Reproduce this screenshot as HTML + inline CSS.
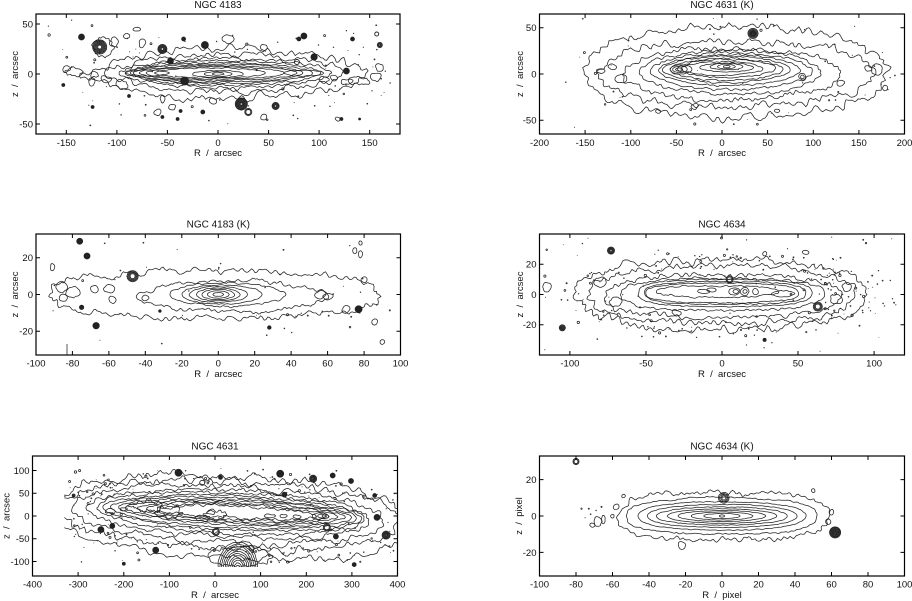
<!DOCTYPE html>
<html><head><meta charset="utf-8">
<style>
html,body{margin:0;padding:0;background:#fff;}
svg{display:block;}
text{font-family:"Liberation Sans",Arial,sans-serif;fill:#111;}
.tt{font-size:10px;text-anchor:middle;}
.xl{font-size:9.5px;text-anchor:middle;}
.yl{font-size:9.5px;text-anchor:end;}
.at{font-size:9.5px;text-anchor:middle;white-space:pre;}
</style></head><body>
<svg id="s" width="912" height="601" viewBox="0 0 912 601" xmlns="http://www.w3.org/2000/svg">
<defs>
<clipPath id="c1"><rect x="36" y="14" width="364" height="120"/></clipPath>
<clipPath id="c2"><rect x="539.5" y="14" width="365" height="120"/></clipPath>
<clipPath id="c3"><rect x="36" y="234" width="364.5" height="121"/></clipPath>
<clipPath id="c4"><rect x="539.5" y="234" width="365" height="121"/></clipPath>
<clipPath id="c5"><rect x="32.5" y="456" width="365" height="120"/></clipPath>
<clipPath id="c5b"><rect x="64.4" y="457" width="333" height="110"/></clipPath>
<clipPath id="c6"><rect x="539.5" y="456" width="365" height="120"/></clipPath>
</defs>
<rect x="0" y="0" width="912" height="601" fill="#fff"/>
<g fill="none" stroke="#222" stroke-width="0.75" stroke-linejoin="round">
<g id="g1" clip-path="url(#c1)"></g>
<g id="g2" clip-path="url(#c2)"></g>
<g id="g3" clip-path="url(#c3)"></g>
<g id="g4" clip-path="url(#c4)"></g>
<g clip-path="url(#c5)"><g id="g5" clip-path="url(#c5b)"></g></g>
<g id="g6" clip-path="url(#c6)"></g>
</g>
<g fill="none" stroke="#000" stroke-width="1.2">
<rect x="36" y="14" width="364" height="120"/>
<rect x="539.5" y="14" width="365" height="120"/>
<rect x="36" y="234" width="364.5" height="121"/>
<rect x="539.5" y="234" width="365" height="121"/>
<rect x="32.5" y="456" width="365" height="120"/>
<rect x="539.5" y="456" width="365" height="120"/>
</g>
<g id="ticks"></g>

<!-- Panel 1 -->
<text class="tt" x="218" y="8">NGC 4183</text>
<text class="xl" x="66.3" y="146">-150</text>
<text class="xl" x="116.9" y="146">-100</text>
<text class="xl" x="167.4" y="146">-50</text>
<text class="xl" x="218" y="146">0</text>
<text class="xl" x="268.6" y="146">50</text>
<text class="xl" x="319.1" y="146">100</text>
<text class="xl" x="369.7" y="146">150</text>
<text class="yl" x="33" y="27.4">50</text>
<text class="yl" x="33" y="77.4">0</text>
<text class="yl" x="33" y="127.4">-50</text>
<text class="at" x="218" y="156" xml:space="preserve">R  /  arcsec</text>
<text class="at" x="0" y="0" transform="translate(18,74) rotate(-90)" xml:space="preserve">z  /  arcsec</text>

<!-- Panel 2 -->
<text class="tt" x="722" y="8">NGC 4631 (K)</text>
<text class="xl" x="539.5" y="146">-200</text>
<text class="xl" x="585.1" y="146">-150</text>
<text class="xl" x="630.8" y="146">-100</text>
<text class="xl" x="676.4" y="146">-50</text>
<text class="xl" x="722" y="146">0</text>
<text class="xl" x="767.6" y="146">50</text>
<text class="xl" x="813.3" y="146">100</text>
<text class="xl" x="858.9" y="146">150</text>
<text class="xl" x="904.5" y="146">200</text>
<text class="yl" x="536.5" y="31.2">50</text>
<text class="yl" x="536.5" y="77.4">0</text>
<text class="yl" x="536.5" y="123.6">-50</text>
<text class="at" x="722" y="156" xml:space="preserve">R  /  arcsec</text>
<text class="at" x="0" y="0" transform="translate(523,74) rotate(-90)" xml:space="preserve">z  /  arcsec</text>

<!-- Panel 3 -->
<text class="tt" x="218.3" y="227.5">NGC 4183 (K)</text>
<text class="xl" x="36" y="366.5">-100</text>
<text class="xl" x="72.5" y="366.5">-80</text>
<text class="xl" x="108.9" y="366.5">-60</text>
<text class="xl" x="145.4" y="366.5">-40</text>
<text class="xl" x="181.8" y="366.5">-20</text>
<text class="xl" x="218.3" y="366.5">0</text>
<text class="xl" x="254.7" y="366.5">20</text>
<text class="xl" x="291.2" y="366.5">40</text>
<text class="xl" x="327.6" y="366.5">60</text>
<text class="xl" x="364.1" y="366.5">80</text>
<text class="xl" x="400.5" y="366.5">100</text>
<text class="yl" x="33" y="261.2">20</text>
<text class="yl" x="33" y="297.9">0</text>
<text class="yl" x="33" y="334.6">-20</text>
<text class="at" x="218.3" y="377" xml:space="preserve">R  /  arcsec</text>
<text class="at" x="0" y="0" transform="translate(18,294.5) rotate(-90)" xml:space="preserve">z  /  arcsec</text>

<!-- Panel 4 -->
<text class="tt" x="722" y="227.5">NGC 4634</text>
<text class="xl" x="569.9" y="366.5">-100</text>
<text class="xl" x="646" y="366.5">-50</text>
<text class="xl" x="722" y="366.5">0</text>
<text class="xl" x="798" y="366.5">50</text>
<text class="xl" x="874.1" y="366.5">100</text>
<text class="yl" x="536.5" y="267.7">20</text>
<text class="yl" x="536.5" y="297.9">0</text>
<text class="yl" x="536.5" y="328.2">-20</text>
<text class="at" x="722" y="377" xml:space="preserve">R  /  arcsec</text>
<text class="at" x="0" y="0" transform="translate(523,294.5) rotate(-90)" xml:space="preserve">z  /  arcsec</text>

<!-- Panel 5 -->
<text class="tt" x="215" y="449.5">NGC 4631</text>
<text class="xl" x="32.5" y="587.5">-400</text>
<text class="xl" x="78.1" y="587.5">-300</text>
<text class="xl" x="123.8" y="587.5">-200</text>
<text class="xl" x="169.4" y="587.5">-100</text>
<text class="xl" x="215" y="587.5">0</text>
<text class="xl" x="260.6" y="587.5">100</text>
<text class="xl" x="306.3" y="587.5">200</text>
<text class="xl" x="351.9" y="587.5">300</text>
<text class="xl" x="397.5" y="587.5">400</text>
<text class="yl" x="29.5" y="473.9">100</text>
<text class="yl" x="29.5" y="496.7">50</text>
<text class="yl" x="29.5" y="519.4">0</text>
<text class="yl" x="29.5" y="542.1">-50</text>
<text class="yl" x="29.5" y="564.9">-100</text>
<text class="at" x="215" y="598" xml:space="preserve">R  /  arcsec</text>
<text class="at" x="0" y="0" transform="translate(9.5,516) rotate(-90)" xml:space="preserve">z  /  arcsec</text>

<!-- Panel 6 -->
<text class="tt" x="722" y="449.5">NGC 4634 (K)</text>
<text class="xl" x="539.5" y="587.5">-100</text>
<text class="xl" x="576" y="587.5">-80</text>
<text class="xl" x="612.5" y="587.5">-60</text>
<text class="xl" x="649" y="587.5">-40</text>
<text class="xl" x="685.5" y="587.5">-20</text>
<text class="xl" x="722" y="587.5">0</text>
<text class="xl" x="758.5" y="587.5">20</text>
<text class="xl" x="795" y="587.5">40</text>
<text class="xl" x="831.5" y="587.5">60</text>
<text class="xl" x="868" y="587.5">80</text>
<text class="xl" x="904.5" y="587.5">100</text>
<text class="yl" x="536.5" y="483">20</text>
<text class="yl" x="536.5" y="519.4">0</text>
<text class="yl" x="536.5" y="555.8">-20</text>
<text class="at" x="722" y="598" xml:space="preserve">R  /  pixel</text>
<text class="at" x="0" y="0" transform="translate(522,516) rotate(-90)" xml:space="preserve">z  /  pixel</text>
</svg>
<script>
(function(){
var NS='http://www.w3.org/2000/svg';
var seed=987654321;
function rnd(){seed|=0;seed=seed+0x6D2B79F5|0;var t=Math.imul(seed^seed>>>15,1|seed);t=t+Math.imul(t^t>>>7,61|t)^t;return((t^t>>>14)>>>0)/4294967296;}
function el(name,attrs,parent){var e=document.createElementNS(NS,name);for(var k in attrs)e.setAttribute(k,attrs[k]);parent.appendChild(e);return e;}
function P(id,x0,x1,y0,y1,xr,yr){return {g:document.getElementById(id),x0:x0,x1:x1,y0:y0,y1:y1,cx:(x0+x1)/2,cy:(y0+y1)/2,sx:(x1-x0)/(2*xr),sy:(y1-y0)/(2*yr)};}
function X(p,x){return p.cx+x*p.sx;}
function Y(p,z){return p.cy-z*p.sy;}

function contour(p,o){
 var cx=o[0],cz=o[1],a=o[2],b=o[3],n=o[4]||2,amp=o[5]||0,lf=o[6]||0,tilt=(o[7]||0)*Math.PI/180,step=o[8]||1.5;
 var ct=Math.cos(tilt),st=Math.sin(tilt),ox=X(p,cx),oy=Y(p,cz);
 var M=1000,pts=[],L=[0],i,k;
 for(i=0;i<M;i++){var t=2*Math.PI*i/M,c=Math.cos(t),s=Math.sin(t);
  var dx=a*p.sx*(c<0?-1:1)*Math.pow(Math.abs(c),2/n);
  var dy=-b*p.sy*(s<0?-1:1)*Math.pow(Math.abs(s),2/n);
  pts.push([ox+dx*ct-dy*st,oy+dx*st+dy*ct]);}
 for(i=1;i<=M;i++){var A=pts[i-1],B=pts[i%M];L.push(L[i-1]+Math.hypot(B[0]-A[0],B[1]-A[1]));}
 var tot=L[M],N=Math.max(10,Math.round(tot/step)),res=[],j=0;
 for(i=0;i<N;i++){var d=tot*i/N;while(j<M-1&&L[j+1]<d)j++;var f=(d-L[j])/((L[j+1]-L[j])||1),A2=pts[j],B2=pts[(j+1)%M];res.push([A2[0]+(B2[0]-A2[0])*f,A2[1]+(B2[1]-A2[1])*f]);}
 var r=[],q=[];for(i=0;i<N;i++)r.push(rnd()*2-1);
 for(i=0;i<N;i++)q.push((r[(i-1+N)%N]+2*r[i]+r[(i+1)%N])/4*2.5);
 var K=6,ph=[],fr=[],am=[];
 for(k=0;k<K;k++){ph.push(rnd()*6.283);fr.push(3+Math.floor(rnd()*(k<3?8:30)));am.push(0.5+rnd()*0.5);}
 var out=[];
 for(i=0;i<N;i++){var P0=res[(i-1+N)%N],P1=res[(i+1)%N],tx=P1[0]-P0[0],ty=P1[1]-P0[1],tl=Math.hypot(tx,ty)||1,nx=ty/tl,ny=-tx/tl;
  var lo=0;for(k=0;k<K;k++)lo+=am[k]*Math.sin(fr[k]*2*Math.PI*i/N+ph[k]);lo/=2.5;
  var off=amp*q[i]+lf*lo;
  out.push((res[i][0]+nx*off).toFixed(1)+','+(res[i][1]+ny*off).toFixed(1));}
 el('path',{d:'M'+out.join('L')+'Z'},p.g);
}
function star(p,x,z,r,type){var cx=X(p,x).toFixed(1),cy=Y(p,z).toFixed(1),rr;
 if(type==0){el('circle',{cx:cx,cy:cy,r:r,fill:'#222'},p.g);}
 else if(type==1){for(rr=r;rr>=1.8;rr-=1.0)el('circle',{cx:cx,cy:cy,r:rr.toFixed(2),'stroke-width':0.9},p.g);}
 else {for(rr=r;rr>=0.6;rr-=0.8)el('circle',{cx:cx,cy:cy,r:rr.toFixed(2),'stroke-width':0.9},p.g);}
}
function speck(p,x,z){var cx=X(p,x).toFixed(1),cy=Y(p,z).toFixed(1);
 if(rnd()<0.8)el('circle',{cx:cx,cy:cy,r:(0.4+rnd()*0.55).toFixed(2),fill:'#333',stroke:'none'},p.g);
 else el('circle',{cx:cx,cy:cy,r:(0.6+rnd()*0.6).toFixed(2)},p.g);}
function specks(p,n,cx,cz,ax,bz){for(var i=0;i<n;i++)speck(p,cx+ax*(rnd()*2-1),cz+bz*(rnd()*2-1));}
function especks(p,n,cx,cz,a,b,f0,f1,tilt){var th=(tilt||0)*Math.PI/180;for(var i=0;i<n;i++){var t=rnd()*6.283,f=f0+(f1-f0)*rnd();var dx=a*f*Math.cos(t),dz=b*f*Math.sin(t);
 speck(p,cx+dx,cz+dz-dx*Math.tan(th)*p.sx/p.sy);}}
function run(p,list){for(var i=0;i<list.length;i++)contour(p,list[i]);}
function stars(p,list){for(var i=0;i<list.length;i++)star(p,list[i][0],list[i][1],list[i][2],list[i][3]);}
var tg=document.getElementById('ticks');
function ticks(p,xt,zt){var d='';xt.forEach(function(v){var x=X(p,v).toFixed(1);d+='M'+x+','+p.y1+'v-4M'+x+','+p.y0+'v4';});
 zt.forEach(function(v){var y=Y(p,v).toFixed(1);d+='M'+p.x0+','+y+'h4M'+p.x1+','+y+'h-4';});
 el('path',{d:d,stroke:'#000','stroke-width':1,fill:'none'},tg);}

/* Panel 1 */
var p1=P('g1',36,400,14,134,180,60);
ticks(p1,[-150,-100,-50,0,50,100,150],[-50,0,50]);
run(p1,[[12,0,135,25,1.8,2.2,2.5,0,2],[10,1,118,19,1.7,1.6,1.5,0,1.8],[8,1,105,15,1.7,1.0,1,0,1.6],
 [5,1,96,12.5,1.8,0.6,0.6],[3,1,90,10.5,1.8,0.4,0.4],[0,1,84,9,1.9,0.3,0.3],[0,1,78,7.5,1.9,0.3,0.3],
 [-3,1,68,6.2,2,0.3,0.3],[-8,1,55,5,2,0.3,0.3],[0,0,25,3.5,2,0.2,0.2],[0,0,14,2.3,2,0.15],[0,0,6,1.2,2,0.1],
 [-70,1,22,3,1.8,0.3],[85,1,20,3,1.8,0.3],
 [-143,2,9,4,2,1,0.5],[-128,-2,8,3,2,1],[-150,5,4,3,2,0.6],[140,-7,10,4,2,1],[155,-3,6,4,2,0.8],[160,6,4,4,2,0.6],
 [128,-8,6,3,2,0.8],[-95,-10,6,4,2,1],[-110,-5,5,3,2,0.8],[-103,32,4,5,2,0.7],[-75,30,3,4,2,0.6],[10,35,5,4,2,0.6],
 [45,27,3,3,2,0.5],[-5,-27,3,3,2,0.5],[-114,27,10,10,2,0.8,0.8],[-90,38,3,3,2,0.5],[-80,45,4,2,2,0.5],
 [-125,-8,3,4,2,0.5],[105,-6,5,3,2,0.6],[115,-4,4,3,2,0.6],[-45,-33,3,3,2,0.5],[-60,-38,3,3,2,0.5],
 [45,-43,3,3,2,0.5],[118,-45,2,2,2,0.4],[-55,-25,2,4,2,0.4]]);
stars(p1,[[-117,27,7,1],[-135,37,3,0],[-55,25,4.5,2],[-47,13,3,0],[-33,-7,4,0],[-13,29,3.5,0],[-34,35,2,0],
 [23,-30,6,2],[30,-38,3.5,1],[57,-32,3.5,2],[80,35,2,0],[85,38,3,0],[95,17,3.2,0],[78,12,2.5,1],[127,3,3,0],
 [133,35,2,0],[137,40,1.5,1],[157,40,2,1],[160,29,2.5,2],[-15,-38,2,0],[-55,-43,1.5,0],[-124,-33,1.5,0],
 [-153,-11,1.5,0],[122,-45,1.5,0],[140,-45,1,0],[-88,-22,1.5,0],[-40,-45,1.5,0],[-37,-37,1.5,0]]);
specks(p1,55,0,0,170,55);especks(p1,40,10,0,130,26,0.9,1.5);

/* Panel 2 */
var p2=P('g2',539.5,904.5,14,134,200,65);
ticks(p2,[-200,-150,-100,-50,0,50,100,150,200],[-50,0,50]);
run(p2,[[15,2,165,49,2.2,2.4,3,0,2],[15,0,150,35,2.2,2.0,2.5,0,1.8],[10,0,120,28,2.0,1.4,1.5],[10,2,100,24,1.9,0.9,1],
 [10,3,88,20,1.9,0.7,0.7],[8,4,78,17,1.8,0.5,0.5],[5,5,70,14.5,1.8,0.4,0.4],[5,5,62,12,1.8,0.4,0.4],
 [5,6,54,10,1.8,0.4,0.4],[0,6,45,7.5,1.8,0.4,0.4],[5,7,30,5,1.8,0.3],[5,8,18,3.5,2,0.2],[5,8,10,2.5,2,0.2],[5,8,4,1.2,2,0.1],
 [-45,5,12,5,2,0.3],[-46,5,8,3.5,2,0.2],[-47,5,4,2,2,0.2],[88,-3,4,3.5,2,0.3],[88,-3,2,1.8,2,0.2],
 [-132,3,5,2.5,2,0.5],[-30,-35,4,3,2,0.5],[170,5,6,6,2,0.6],[178,-15,3,3,2,0.5],[160,6,4,3,2,0.5],
 [-110,-5,6,4,2,0.7],[-120,8,5,3,2,0.6],[130,-10,5,3,2,0.6],[60,-40,3,2,2,0.4],[-70,-40,3,2,2,0.4]]);
stars(p2,[[34,44,5,1],[34,44,3,2]]);
specks(p2,25,10,0,185,60);especks(p2,25,15,2,165,49,0.85,1.2);

/* Panel 3 */
var p3=P('g3',36,400.5,234,355,100,33);
ticks(p3,[-100,-80,-60,-40,-20,0,20,40,60,80,100],[-20,0,20]);
run(p3,[[-2,0,91,13,2.3,1.8,2,0,1.8],[8,-1,52,8.5,1.8,1.1,1.5],[5,0,32,6.5,1.8,0.6,0.6],[2,0,22,5.2,2,0.3],
 [0,0,16,4.3,2,0.25],[0,0,12,3.5,2,0.2],[0,0,9,2.8,2,0.2],[0,0,6,2,2,0.1],[0,0,3,1,2,0.1],
 [-80,1,4,3,2,0.6],[-86,4,3,3,2,0.5],[-60,3,3,2,2,0.5],[-58,-3,2,2,2,0.4],[-85,-2,2,2,2,0.4],[-91,15,1.2,2,2,0.3],
 [56,0,3,2,2,0.5],[60,-1,3,2,2,0.5],[70,-8,2,2,2,0.4],[75,24,1.2,1.5,2,0.3],[78,28,1,1.2,2,0.2],[78,22,1,2,2,0.2],
 [86,-15,1.5,1.5,2,0.3],[90,-26,1.2,1.2,2,0.3],[80,8,1.5,1.5,2,0.3],[-68,3,2,2,2,0.4],[-40,-2,2,1.5,2,0.3]]);
stars(p3,[[-47,10,5.5,1],[-76,29,3,0],[-72,21,3,0],[-67,-17,3.2,0],[-75,-7,2.2,0],[77,-8,3.5,0],[28,-18,1.8,0],[-32,-9,1.3,0]]);
el('path',{d:'M'+X(p3,-83).toFixed(1)+','+Y(p3,-27).toFixed(1)+'v12'},p3.g);
specks(p3,25,0,0,95,30);especks(p3,20,-2,0,91,13,0.9,1.3);

/* Panel 4 */
var p4=P('g4',539.5,904.5,234,355,120,40);
ticks(p4,[-100,-50,0,50,100],[-20,0,20]);
run(p4,[[0,0,95,23,2.4,2.2,2.5,0,1.8],[0,0,87,19,2.4,2.0,2,0,1.8],[0,-1,78,14,2.4,1.4,1.5,0,1.6],[0,0,67,10.5,2.6,0.7,0.8],
 [2,1,57,9,2.8,0.3,0.3],[2,1,53,7.5,2.8,0.3,0.3],[0,1,50,6.5,2.7,0.3,0.3],[-3,2,40,3.8,2.6,0.6,0.6],
 [-12,2,4,1.5,2,0.3],[-7,3,3,1.2,2,0.2],[8,2,3.5,2.5,2,0.3],[9,2,1.8,1.3,2,0.2],[15,2,3,2.5,2,0.3],[15,2,1.5,1.2,2,0.2],
 [22,2,2,2,2,0.2],[40,0.5,8,2,2,0.4],[-115,5,3,3,2,0.5],[28,27,1.5,1.5,2,0.3],[55,28,2,1.5,2,0.3],
 [-70,-5,4,3,2,0.6],[-80,8,4,3,2,0.6],[75,-3,4,3,2,0.6],[82,5,3,3,2,0.5],[-30,-12,3,2,2,0.5]]);
stars(p4,[[-73,29,3.5,2],[-105,-22,3,2],[5,10,3.5,1],[63,-8,4.5,1],[28,-30,1.6,0]]);
specks(p4,80,0,0,118,38);especks(p4,120,0,0,95,23,0.75,1.35);

/* Panel 5 */
var p5=P('g5',32.5,397.5,456,576,400,132);
ticks(p5,[-400,-300,-200,-100,0,100,200,300,400],[-100,-50,0,50,100]);
run(p5,[[40,-2,390,90,2.3,2,3,2.6,2],[35,2,365,74,2.3,2,2.5,2.6,1.8],[30,3,340,62,2.1,1.6,2,2.6,1.8],[30,5,310,52,2.0,1.2,1.5,2.6,1.6],
 [35,6,295,45,1.9,0.8,1,2.6],[40,7,285,38,1.9,0.6,0.8,2.6],[40,7,270,33,1.9,0.5,0.6,2.6],[45,8,255,28,1.9,0.5,0.6,2.6],
 [45,8,240,24,1.9,0.5,0.6,2.6],[50,8,220,20,1.9,0.5,0.6,2.6],[50,8,200,17,1.9,0.6,0.8,2.6],[50,8,175,13,1.9,0.8,1,2.6],
 [-150,22,35,12,2,1.5,1.5],[-100,8,28,10,2,1.5,1.5],[0,3,25,10,2,1.2,1],[-30,-5,15,6,2,0.8],[-10,8,10,5,2,0.6],
 [120,0,12,4,2,0.5],[150,0,8,4,2,0.4],[180,-2,10,4,2,0.4],[230,0,18,7,2,0.5],[235,0,10,4,2,0.3],[240,0,5,2,2,0.2],
 [-200,15,8,4,2,0.5],[-230,10,10,5,2,0.6],[55,-88,70,22,2,1,1]]);
(function(){for(var k=1;k<=11;k++){var rx=1.8*k,ry=2.3*k;contour(p5,[50,-113,rx/p5.sx,ry/p5.sy,2,0.15,0.2]);}})();
stars(p5,[[-80,95,3.5,0],[143,93,3.5,0],[215,82,3.5,2],[258,89,2.5,0],[298,77,2.5,0],[-28,73,2.5,1],[12,85,2,0],
 [152,47,2.5,0],[2,-35,3.5,1],[245,-25,3.5,1],[355,-3,3,0],[375,-42,4,2],[-250,-30,3,0],[-225,-22,2.5,0],
 [-130,-75,3,0],[265,-45,2.5,0],[80,-70,2.5,1],[-200,-105,1.5,0],[305,-107,2,0],[350,45,2,0],[-310,45,1.5,0]]);
specks(p5,80,35,0,360,110);especks(p5,120,40,0,370,82,0.8,1.25,2.6);

/* Panel 6 */
var p6=P('g6',539.5,904.5,456,576,100,33);
ticks(p6,[-100,-80,-60,-40,-20,0,20,40,60,80,100],[-20,0,20]);
run(p6,[[1,0,57,13,3,1.4,1.5,0,1.6],[0,0,52,10,2.6,0.5,0.7],[0,0,46,7.8,2.3,0.25,0.3],[0,0,41,6.3,2.2,0.2,0.2],
 [0,0,36,5.0,2.1,0.2,0.2],[0,0,30,4.0,2.0,0.15],[0,0,24,3.0,2.0,0.15],[0,0,17,2.2,2.0,0.1],[0,0,10,1.4,2.0,0.1],
 [0,0,1.5,0.6,2.0,0],
 [-54,11,1,1,2,0.2],[-58,5,1.5,1.5,2,0.3],[-68,-3,2,3,2,0.5],[-71,-5,1.5,1,2,0.3],[-65,-2,1,2.5,2,0.3],
 [-22,-16,2,2,2,0.4],[-60,0,1,1,2,0.2],[58,-3,1.5,1.5,2,0.3],[60,2,1,1.5,2,0.3],[50,14,1,1,2,0.2]]);
(function(){for(var k=1;k<=4;k++){var r=1+k*1.1;contour(p6,[1,10,r/p6.sx,r/p6.sy,2,0.1,0]);}})();
stars(p6,[[-80,30,3,1],[62,-9,5.5,2]]);
[[-77,4],[-73,4],[-69,3],[-75,-1],[-66,5],[-72,1]].forEach(function(v){speck(p6,v[0],v[1]);});
})();
</script>
</body></html>
